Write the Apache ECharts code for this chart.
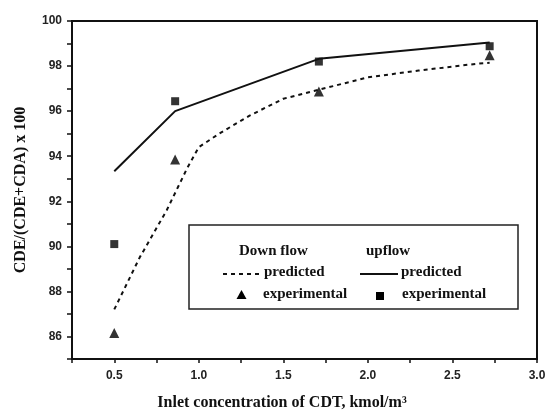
<!DOCTYPE html>
<html>
<head>
<meta charset="utf-8">
<script src="https://cdn.jsdelivr.net/npm/echarts@6/dist/echarts.min.js"></script>
<style>html,body{margin:0;padding:0;background:#fff}#c{width:547px;height:415px}</style>
</head>
<body>
<div id="c"></div>
<script>
// Data
var downPredX = [0.5, 0.65, 0.81, 0.93, 1.0, 1.12, 1.3, 1.5, 1.71, 2.0, 2.3, 2.64, 2.72];
var downPredY = [87.2, 89.5, 91.6, 93.45, 94.4, 95.0, 95.8, 96.55, 96.95, 97.5, 97.8, 98.1, 98.15];
var expX = [0.5, 0.86, 1.71, 2.72];
var downExpY = [86.15, 93.85, 96.87, 98.48];
var upPredY = [93.33, 96.0, 98.32, 99.05];
var upExpY = [90.1, 96.44, 98.2, 98.88];
var xTickLabels = ['0.5', '1.0', '1.5', '2.0', '2.5', '3.0'];
var yTickLabels = ['86', '88', '90', '92', '94', '96', '98', '100'];

function zip(xs, ys) { return xs.map(function (x, i) { return [x, ys[i]]; }); }

var serif = '"Liberation Serif", "DejaVu Serif", serif';
var sans = '"Liberation Sans", Arial, sans-serif';
var chart = echarts.init(document.getElementById('c'), null, {renderer: 'canvas'});

var legendText = {fontFamily: serif, fontWeight: 'bold', fontSize: 15, fill: '#111', textVerticalAlign: 'middle'};
function txt(x, y, s) {
  return {type: 'text', left: x, top: y - 9, style: Object.assign({text: s}, legendText)};
}

chart.setOption({
  animation: false,
  backgroundColor: '#fff',
  grid: {left: 72, right: 10, top: 21, bottom: 56, show: true, borderColor: '#111', borderWidth: 2,
         containLabel: false, outerBoundsMode: 'none'},
  xAxis: {
    type: 'value', min: 0.25, max: 3.0, interval: 0.25,
    name: 'Inlet concentration of CDT, kmol/m\u00B3',
    nameLocation: 'middle', nameGap: 36,
    nameTextStyle: {fontFamily: serif, fontWeight: 'bold', fontSize: 16, color: '#111', padding: [0, 45, 0, 0]},
    axisLine: {show: true, lineStyle: {color: '#111', width: 2}},
    axisTick: {show: true, length: 4, lineStyle: {color: '#111', width: 1.5}},
    splitLine: {show: false},
    axisLabel: {
      margin: 11, fontFamily: sans, fontWeight: 'bold', fontSize: 12, color: '#222',
      formatter: function (v) {
        var s = v.toFixed(1);
        return (Math.abs(v * 2 - Math.round(v * 2)) < 1e-6 && xTickLabels.indexOf(s) >= 0) ? s : '';
      }
    }
  },
  yAxis: {
    type: 'value', min: 85, max: 100, interval: 1,
    name: 'CDE/(CDE+CDA) x 100',
    nameLocation: 'middle', nameGap: 43, nameRotate: 90,
    nameTextStyle: {fontFamily: serif, fontWeight: 'bold', fontSize: 16, color: '#111'},
    axisLine: {show: true, lineStyle: {color: '#111', width: 2}},
    axisTick: {show: true, length: 5, lineStyle: {color: '#111', width: 1.5}},
    splitLine: {show: false},
    axisLabel: {
      margin: 10, fontFamily: sans, fontWeight: 'bold', fontSize: 12, color: '#222',
      formatter: function (v) {
        var s = String(Math.round(v));
        return yTickLabels.indexOf(s) >= 0 ? s : '';
      }
    }
  },
  series: [
    {
      name: 'Down flow predicted', type: 'line', data: zip(downPredX, downPredY),
      showSymbol: false, symbol: 'none',
      lineStyle: {color: '#111', width: 2, type: [4, 4]}
    },
    {
      name: 'Down flow experimental', type: 'scatter', data: zip(expX, downExpY),
      symbol: 'triangle', symbolSize: 10, itemStyle: {color: '#000'}
    },
    {
      name: 'upflow predicted', type: 'line', data: zip(expX, upPredY),
      showSymbol: false, symbol: 'none',
      lineStyle: {color: '#111', width: 2}
    },
    {
      name: 'upflow experimental', type: 'scatter', data: zip(expX, upExpY),
      symbol: 'rect', symbolSize: 8, itemStyle: {color: '#000'}
    }
  ],
  graphic: [
    {type: 'rect', shape: {x: 189, y: 225, width: 329, height: 84},
     style: {fill: '#fff', stroke: '#222', lineWidth: 1.5}, z: 10},
    Object.assign(txt(239, 253, 'Down flow'), {z: 11}),
    Object.assign(txt(366, 253, 'upflow'), {z: 11}),
    {type: 'line', shape: {x1: 223, y1: 274, x2: 261, y2: 274},
     style: {stroke: '#111', lineWidth: 2, lineDash: [4, 4]}, z: 11},
    Object.assign(txt(264, 274, 'predicted'), {z: 11}),
    {type: 'line', shape: {x1: 360, y1: 274, x2: 398, y2: 274},
     style: {stroke: '#111', lineWidth: 2}, z: 11},
    Object.assign(txt(401, 274, 'predicted'), {z: 11}),
    {type: 'polygon', shape: {points: [[241.5, 290], [236.5, 299], [246.5, 299]]},
     style: {fill: '#000'}, z: 11},
    Object.assign(txt(263, 296, 'experimental'), {z: 11}),
    {type: 'rect', shape: {x: 376, y: 292, width: 8, height: 8}, style: {fill: '#000'}, z: 11},
    Object.assign(txt(402, 296, 'experimental'), {z: 11})
  ]
});
</script>
</body>
</html>
